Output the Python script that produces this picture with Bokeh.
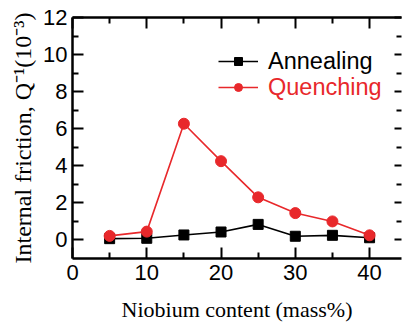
from bokeh.plotting import figure
from bokeh.models import (LinearAxis, FixedTicker, Range1d, Legend, LegendItem,
                          CustomLabelingPolicy)
from bokeh.embed import file_html
from bokeh.resources import INLINE

# ---- data ----
niobium = [5, 10, 15, 20, 25, 30, 35, 40]
annealing = [0.07, 0.09, 0.27, 0.43, 0.84, 0.20, 0.25, 0.12]
quenching = [0.22, 0.45, 6.27, 4.25, 2.30, 1.45, 1.00, 0.25]
x_ticks = [0, 10, 20, 30, 40]
x_minor = [5, 15, 25, 35]
y_ticks = [0, 2, 4, 6, 8, 10, 12]
y_minor = [1, 3, 5, 7, 9, 11]
series_names = ["Annealing", "Quenching"]
x_title = "Niobium content (mass%)"
y_title = "Internal friction, Q\u207b\u00b9(10\u207b\u00b3)"

RED = "#e8282b"
SANS = "Liberation Sans"
SERIF = "Liberation Serif"

W, H = 405, 324
BL, BT, BR, BB = 72, 17, 0, 64
XMIN, XMAX = 0, 44.3
YMIN, YMAX = -1.0, 12

p = figure(width=W, height=H, output_backend="svg", toolbar_location=None,
           x_range=Range1d(XMIN, XMAX), y_range=Range1d(YMIN, YMAX),
           min_border_left=BL, min_border_top=BT, min_border_right=BR,
           min_border_bottom=BB)
p.outline_line_color = None
p.grid.visible = False

top_ax = LinearAxis()
right_ax = LinearAxis()
p.add_layout(top_ax, "above")
p.add_layout(right_ax, "right")

hide_all = CustomLabelingPolicy(code="for (const i of indices) { indices.unset(i) }\nreturn indices")


def style_axis(ax, ticks, minor, labels=True, line=True):
    ax.ticker = FixedTicker(ticks=ticks, minor_ticks=minor)
    ax.axis_line_color = "black" if line else None
    ax.axis_line_width = 2.5
    ax.major_tick_in = 11
    ax.major_tick_out = 0
    ax.minor_tick_in = 6
    ax.minor_tick_out = 0
    ax.major_tick_line_width = 2
    ax.minor_tick_line_width = 2
    ax.major_tick_line_color = "black"
    ax.minor_tick_line_color = "black"
    if labels:
        ax.major_label_text_font = SANS
        ax.major_label_text_font_size = "22px"
        ax.major_label_text_color = "black"
    else:
        ax.major_label_policy = hide_all
        ax.major_label_text_font_size = "1px"
        ax.major_label_standoff = 0


bottom_ax = p.below[0]
left_ax = p.left[0]
style_axis(bottom_ax, x_ticks, x_minor)
bottom_ax.major_label_standoff = 6
bottom_ax.axis_label = x_title
bottom_ax.axis_label_text_font = SERIF
bottom_ax.axis_label_text_font_size = "22px"
bottom_ax.axis_label_text_font_style = "normal"
bottom_ax.axis_label_text_color = "black"
bottom_ax.axis_label_standoff = 14

style_axis(left_ax, y_ticks, y_minor)
left_ax.major_label_standoff = 5
left_ax.axis_label = y_title
left_ax.axis_label_text_font = SERIF
left_ax.axis_label_text_font_size = "24px"
left_ax.axis_label_text_font_style = "normal"
left_ax.axis_label_text_color = "black"
left_ax.axis_label_standoff = 4

style_axis(top_ax, x_ticks, x_minor, labels=False)
style_axis(right_ax, y_ticks, y_minor, labels=False, line=False)
right_ax.major_tick_in = 7
right_ax.minor_tick_in = 5

# ---- data series ----
a_line = p.line(niobium, annealing, line_color="black", line_width=1.6)
a_pts = p.scatter(niobium, annealing, marker="square", size=10,
                  fill_color="black", line_color="black")
q_line = p.line(niobium, quenching, line_color=RED, line_width=1.6)
q_pts = p.scatter(niobium, quenching, marker="circle", size=11,
                  fill_color=RED, line_color=RED)

# ---- legends (two, so each label has its own colour) ----
for name, rends, color, loc in [
        (series_names[0], [a_line, a_pts], "black", (146, 183.5)),
        (series_names[1], [q_line, q_pts], RED, (146, 157.5))]:
    leg = Legend(items=[LegendItem(label=name, renderers=rends)], location=loc,
                 padding=0, margin=0, spacing=0, glyph_width=40, glyph_height=20,
                 label_standoff=10, label_text_font=SANS, label_text_font_size="23.5px",
                 label_text_color=color, border_line_color=None,
                 background_fill_alpha=0)
    p.add_layout(leg)

open("out.html", "w").write(file_html(p, INLINE))
